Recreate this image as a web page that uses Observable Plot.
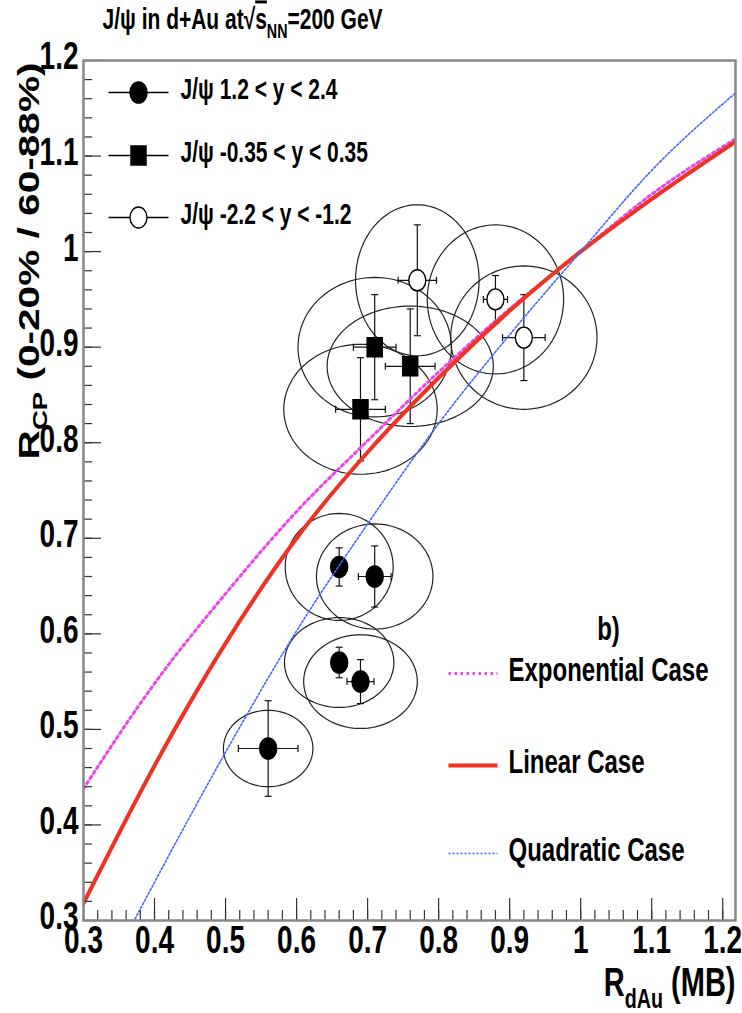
<!DOCTYPE html>
<html><head><meta charset="utf-8">
<script src="https://cdn.jsdelivr.net/npm/d3@7"></script>
<script src="https://cdn.jsdelivr.net/npm/@observablehq/plot@0.6"></script>
<style>html,body{margin:0;padding:0;background:#fff}svg{display:block}</style>
</head><body><div id="chart"></div>
<script>
// ---------- data ----------
// J/psi 1.2 < y < 2.4 (filled circles)
const fwdX  = [0.56, 0.66, 0.71, 0.66, 0.69];
const fwdY  = [0.48, 0.67, 0.66, 0.57, 0.55];
const fwdEx = [0.042, 0.008, 0.023, 0.008, 0.019];
const fwdEy = [0.050, 0.020, 0.032, 0.016, 0.023];
const fwdRx = [0.063, 0.076, 0.082, 0.077, 0.080];
const fwdRy = [0.040, 0.056, 0.055, 0.047, 0.049];
// J/psi -0.35 < y < 0.35 (filled squares)
const midX  = [0.71, 0.76, 0.69];
const midY  = [0.90, 0.88, 0.835];
const midEx = [0.030, 0.035, 0.035];
const midEy = [0.055, 0.060, 0.054];
const midRx = [0.108, 0.117, 0.108];
const midRy = [0.073, 0.063, 0.068];
// J/psi -2.2 < y < -1.2 (open circles)
const bwdX  = [0.77, 0.88, 0.92];
const bwdY  = [0.97, 0.95, 0.91];
const bwdEx = [0.027, 0.017, 0.030];
const bwdEy = [0.058, 0.025, 0.045];
const bwdRx = [0.087, 0.096, 0.103];
const bwdRy = [0.079, 0.078, 0.075];
// model curves
const curveX = [0.3, 0.4, 0.5, 0.6, 0.7, 0.8, 0.9, 1.0, 1.1, 1.218];
const expY   = [0.438, 0.548, 0.642, 0.728, 0.802, 0.874, 0.940, 1.0, 1.060, 1.118];
const linY   = [0.318, 0.462, 0.590, 0.700, 0.790, 0.868, 0.938, 1.0, 1.055, 1.115];
const quadX  = [0.37, 0.4, 0.5, 0.6, 0.7, 0.8, 0.9, 1.0, 1.1, 1.218];
const quadY  = [0.298, 0.340, 0.476, 0.603, 0.715, 0.820, 0.913, 1.0, 1.085, 1.166];
// ticks and labels
const xTicks = [0.3, 0.4, 0.5, 0.6, 0.7, 0.8, 0.9, 1, 1.1, 1.2];
const yTicks = [0.3, 0.4, 0.5, 0.6, 0.7, 0.8, 0.9, 1, 1.1, 1.2];
const legendLabels = ["J/\u03c8 1.2 < y < 2.4", "J/\u03c8 -0.35 < y < 0.35", "J/\u03c8 -2.2 < y < -1.2"];
const curveLabels = ["Exponential Case", "Linear Case", "Quadratic Case"];
const titleText = "J/\u03c8 in d+Au at\u221a~{s}_{NN}=200 GeV";
const xTitle = "R_{dAu} (MB)";
const yTitle = "R_{CP} (0-20% / 60-88%)";

// ---------- layout ----------
const W = 742, H = 1013, ML = 83, MR = 7, MT = 60, MB = 93;
const FW = W - ML - MR, FH = H - MT - MB;
const FONT = "'Liberation Sans', Arial, Helvetica, sans-serif";
const STRETCH = 1.4;

// minor ticks every 0.02
const minorX = d3.range(0, 47).map(i => +(0.3 + 0.02 * i).toFixed(2)).filter(v => v <= 1.218);
const minorY = d3.range(0, 46).map(i => +(0.3 + 0.02 * i).toFixed(2)).filter(v => v <= 1.2);

// ---------- symbols ----------
const KAPPA = 0.5523;
function ellipseSymbol(rx, ry) {
  return {draw(ctx) {
    const a = rx, b = ry;
    ctx.moveTo(a, 0);
    ctx.bezierCurveTo(a, KAPPA * b, KAPPA * a, b, 0, b);
    ctx.bezierCurveTo(-KAPPA * a, b, -a, KAPPA * b, -a, 0);
    ctx.bezierCurveTo(-a, -KAPPA * b, -KAPPA * a, -b, 0, -b);
    ctx.bezierCurveTo(KAPPA * a, -b, a, -KAPPA * b, a, 0);
    ctx.closePath();
  }};
}
const circSym = ellipseSymbol(8.5, 10.5);
const sqSym = {draw(ctx) { ctx.rect(-7.5, -9.5, 15, 19); }};
const hline = {draw(ctx, size) { const r = Math.sqrt(size / Math.PI); ctx.moveTo(-r, 0); ctx.lineTo(r, 0); }};
const vline = {draw(ctx, size) { const r = Math.sqrt(size / Math.PI); ctx.moveTo(0, -r); ctx.lineTo(0, r); }};

// ---------- derived tables ----------
function rows(X, Y, EX, EY, RX, RY, series) {
  return X.map((x, i) => ({series, id: series + i, x, y: Y[i], ex: EX[i], ey: EY[i], rx: RX[i], ry: RY[i]}));
}
const pts = [
  ...rows(fwdX, fwdY, fwdEx, fwdEy, fwdRx, fwdRy, "fwd"),
  ...rows(midX, midY, midEx, midEy, midRx, midRy, "mid"),
  ...rows(bwdX, bwdY, bwdEx, bwdEy, bwdRx, bwdRy, "bwd")
];
const ellipsePts = pts.flatMap(p => d3.range(0, 97).map(k => {
  const t = 2 * Math.PI * k / 96;
  return {id: p.id, x: p.x + p.rx * Math.cos(t), y: p.y + p.ry * Math.sin(t)};
}));
const expData = curveX.map((x, i) => ({x, y: expY[i]}));
const linData = curveX.map((x, i) => ({x, y: linY[i]}));
const quadData = quadX.map((x, i) => ({x, y: quadY[i]}));

const txt = (s, o) => Plot.text([s], {text: d => d, frameAnchor: "top-left", ...o});

const curveStyles = [
  {stroke: "#ee44ee", strokeWidth: 3, strokeDasharray: "2.5,3.5"},
  {stroke: "#ee3322", strokeWidth: 4},
  {stroke: "#4466ff", strokeWidth: 1.6, strokeDasharray: "2,2"}
];
const markerStyles = [
  {symbol: circSym, fill: "black", stroke: "black"},
  {symbol: sqSym, fill: "black", stroke: "black"},
  {symbol: circSym, fill: "white", stroke: "black", strokeWidth: 1.4}
];

const chart = Plot.plot({
  width: W, height: H,
  marginLeft: ML, marginRight: MR, marginTop: MT, marginBottom: MB,
  x: {domain: [0.3, 1.218]},
  y: {domain: [0.3, 1.2]},
  style: {fontFamily: FONT, fontSize: "20px", color: "black", background: "white"},
  marks: [
    // ellipses
    Plot.line(ellipsePts, {x: "x", y: "y", z: "id", stroke: "#222", strokeWidth: 1.2, clip: true}),
    // error bars
    Plot.link(pts, {x1: d => d.x, x2: d => d.x, y1: d => d.y - d.ey, y2: d => d.y + d.ey, stroke: "#111", strokeWidth: 1.2}),
    Plot.link(pts, {x1: d => d.x - d.ex, x2: d => d.x + d.ex, y1: "y", y2: "y", stroke: "#111", strokeWidth: 1.2}),
    Plot.dot(pts, {x: "x", y: d => d.y + d.ey, symbol: hline, r: 3.5, stroke: "#111", strokeWidth: 1.2}),
    Plot.dot(pts, {x: "x", y: d => d.y - d.ey, symbol: hline, r: 3.5, stroke: "#111", strokeWidth: 1.2}),
    Plot.dot(pts, {x: d => d.x + d.ex, y: "y", symbol: vline, r: 3.5, stroke: "#111", strokeWidth: 1.2}),
    Plot.dot(pts, {x: d => d.x - d.ex, y: "y", symbol: vline, r: 3.5, stroke: "#111", strokeWidth: 1.2}),
    // markers
    Plot.dot(pts.filter(d => d.series === "fwd"), {x: "x", y: "y", ...markerStyles[0]}),
    Plot.dot(pts.filter(d => d.series === "mid"), {x: "x", y: "y", ...markerStyles[1]}),
    Plot.dot(pts.filter(d => d.series === "bwd"), {x: "x", y: "y", ...markerStyles[2]}),
    // model curves
    Plot.line(expData, {x: "x", y: "y", curve: "monotone-x", clip: true, ...curveStyles[0]}),
    Plot.line(linData, {x: "x", y: "y", curve: "monotone-x", clip: true, ...curveStyles[1]}),
    Plot.line(quadData, {x: "x", y: "y", curve: "monotone-x", clip: true, ...curveStyles[2]}),
    // inner ticks
    Plot.tickX(minorX, {x: d => d, insetTop: FH - 10, stroke: "#333", strokeWidth: 1.2}),
    Plot.tickX(xTicks, {x: d => d, insetTop: FH - 22, stroke: "#333", strokeWidth: 1.2}),
    Plot.tickY(minorY, {y: d => d, insetRight: FW - 9, stroke: "#333", strokeWidth: 1.2}),
    Plot.tickY(yTicks, {y: d => d, insetRight: FW - 18, stroke: "#333", strokeWidth: 1.2}),
    Plot.frame({stroke: "#888", strokeWidth: 2.5}),
    // tick labels
    Plot.axisX(xTicks, {anchor: "bottom", tickSize: 0, tickPadding: 13, fontSize: 28, fontWeight: "bold", tickFormat: d => String(d), label: null}),
    Plot.axisY(yTicks, {anchor: "left", tickSize: 0, tickPadding: 5, fontSize: 28, fontWeight: "bold", tickFormat: d => String(d), label: null}),
    // titles
    txt(titleText, {dx: 19, dy: -38, textAnchor: "start", lineAnchor: "middle", fontSize: 21, fontWeight: "bold"}),
    Plot.text([xTitle], {text: d => d, frameAnchor: "bottom-right", dx: 0, dy: 66, textAnchor: "end", lineAnchor: "middle", fontSize: 29, fontWeight: "bold"}),
    txt(yTitle, {dx: -54, dy: 2, rotate: -90, textAnchor: "end", lineAnchor: "middle", fontSize: 29, fontWeight: "bold"}),
    // upper-left legend
    ...legendLabels.flatMap((lab, i) => {
      const dy = [32, 95, 157][i];
      return [
        Plot.dot([lab], {frameAnchor: "top-left", dx: 55, dy, symbol: hline, r: 30, stroke: "black", strokeWidth: 1.3}),
        Plot.dot([lab], {frameAnchor: "top-left", dx: 55, dy, ...markerStyles[i]}),
        txt(lab, {dx: 97, dy, textAnchor: "start", lineAnchor: "middle", fontSize: 21, fontWeight: "bold"})
      ];
    }),
    // lower-right legend
    txt("b)", {dx: 525, dy: 572, textAnchor: "middle", lineAnchor: "middle", fontSize: 24, fontWeight: "bold"}),
    ...curveLabels.flatMap((lab, i) => {
      const dy = [613, 705, 793][i];
      return [
        Plot.dot([lab], {frameAnchor: "top-left", dx: 389.5, dy, symbol: hline, r: 24.5, ...curveStyles[i]}),
        txt(lab, {dx: 425, dy, textAnchor: "start", lineAnchor: "middle", fontSize: 24, fontWeight: "bold"})
      ];
    })
  ]
});

document.getElementById("chart").appendChild(chart);

// ---------- text post-processing: sub/overline markup and vertical stretch ----------
const NS = "http://www.w3.org/2000/svg";
d3.select(chart).selectAll("text").each(function() {
  const s = this.textContent;
  if (!/[_~]\{/.test(s)) return;
  const fs = parseFloat(getComputedStyle(this).fontSize) || 20;
  while (this.firstChild) this.removeChild(this.firstChild);
  const re = /([_~])\{([^}]*)\}/g;
  let last = 0, m, pendingDy = 0;
  const add = (t, kind) => {
    if (!t) return;
    const ts = document.createElementNS(NS, "tspan");
    ts.textContent = t;
    let dy = pendingDy;
    if (kind === "sub") { ts.setAttribute("font-size", (fs * 0.68).toFixed(1)); dy += fs * 0.3; pendingDy = -fs * 0.3; }
    else { pendingDy = 0; }
    if (kind === "over") ts.setAttribute("text-decoration", "overline");
    if (dy) ts.setAttribute("dy", dy.toFixed(2));
    this.appendChild(ts);
  };
  while ((m = re.exec(s))) {
    add(s.slice(last, m.index), "normal");
    add(m[2], m[1] === "_" ? "sub" : "over");
    last = re.lastIndex;
  }
  add(s.slice(last), "normal");
});
d3.select(chart).selectAll("text").each(function() {
  const list = this.transform.baseVal;
  let M = new DOMMatrix();
  if (list.numberOfItems > 0) {
    const c = list.consolidate().matrix;
    M = new DOMMatrix([c.a, c.b, c.c, c.d, c.e, c.f]);
  }
  const xv = this.x.baseVal.numberOfItems ? this.x.baseVal.getItem(0).value : 0;
  const yv = this.y.baseVal.numberOfItems ? this.y.baseVal.getItem(0).value : 0;
  const p = M.transformPoint(new DOMPoint(xv, yv));
  if (!isFinite(p.x) || !isFinite(p.y)) return;
  const S = new DOMMatrix().translate(p.x, p.y).scale(1, STRETCH).translate(-p.x, -p.y).multiply(M);
  this.setAttribute("transform", `matrix(${S.a},${S.b},${S.c},${S.d},${S.e},${S.f})`);
});
</script></body></html>
